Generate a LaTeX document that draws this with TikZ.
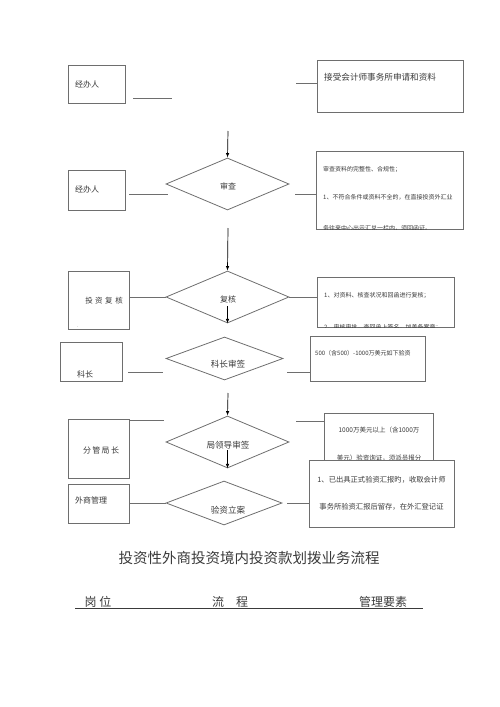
\documentclass[tikz,border=0pt]{standalone}
\usepackage{fontspec}
\newfontfamily\cjk{Noto Sans CJK SC}
\usetikzlibrary{shapes.geometric,arrows.meta}
\definecolor{flowline}{HTML}{6E6E6E}
\definecolor{flowtext}{HTML}{3A3A3A}

\tikzset{
  postbox/.style={draw=flowline, line width=0.8pt, fill=white, inner sep=0pt},
  checkbox/.style={diamond, draw=flowline, line width=0.8pt, inner sep=0pt},
  link/.style={draw=flowline, line width=0.8pt},
  flow/.style={draw=black, line width=0.7pt, -{Latex[length=4.5pt,width=3.5pt]}},
  txt/.style={text=flowtext, inner sep=0pt, font=\cjk\fontsize{#1}{#1}\selectfont},
  txt/.default=8,
}

\begin{document}
\begin{tikzpicture}[x=1pt,y=-1pt]
  \useasboundingbox (0,0) rectangle (500,707);

  % row 1
  \node[postbox, minimum width=57pt, minimum height=38pt] (jbA) at (96.5,84) {};
  \node[txt, anchor=west] (jbAText) at (75,84) {经办人};
  \coordinate (l1a) at (133,98);
  \coordinate (l1b) at (172,98);
  \draw[link] (l1a) -- (l1b);
  \node[postbox, minimum width=146pt, minimum height=52pt] (accA) at (390,86) {};
  \node[txt=8.6, anchor=west] (accAText) at (324,77) {接受会计师事务所申请和资料};
  \coordinate (r1) at (296,83);
  \draw[link] (r1) -- (r1 -| accA.west);
  \coordinate (ar1) at (228,131);

  % row 2
  \node[postbox, minimum width=57pt, minimum height=40pt] (jbB) at (96.5,190) {};
  \node[txt, anchor=west] (jbBText) at (75,189) {经办人};
  \node[checkbox, minimum width=123pt, minimum height=52pt] (sc) at (227.5,184) {};
  \node[txt] (scText) at (228,186) {审查};
  \draw[flow] (ar1) -- (sc.north);
  \coordinate (l2a) at (129,194);
  \coordinate (l2b) at (168,194);
  \draw[link] (l2a) -- (l2b);
  \node[postbox, minimum width=147pt, minimum height=78pt] (rvB) at (389.5,190) {};
  \coordinate (r2) at (295,194);
  \draw[link] (r2) -- (r2 -| rvB.west);
  \begin{scope}
    \clip (rvB.south west) rectangle (rvB.north east);
    \node[txt=6, anchor=west] (rvBa) at (323,169) {审查资料的完整性、合规性；};
    \node[txt=6, anchor=west] (rvBb) at (323,197) {1、不符合条件或资料不全的，在直接投资外汇业};
    \node[txt=6, anchor=west] (rvBc) at (323,228) {务往来中心出示汇兑一栏内，须回函证。};
  \end{scope}
  \coordinate (ar2) at (228,228);

  % row 3
  \node[postbox, minimum width=61pt, minimum height=58pt] (tzfh) at (98.5,300) {};
  \node[txt=7.5] (tzfhText) at (104,301) {投\,\,资\,\,复\,\,核};
  \node[txt=4] (tzfhDot) at (78,327) {.};
  \node[checkbox, minimum width=123pt, minimum height=52pt] (fh) at (227.5,297) {};
  \node[txt=8] (fhText) at (228,299) {复核};
  \draw[flow] (ar2) -- (fh.north);
  \coordinate (in3) at (227.5,306);
  \draw[flow] (in3) -- (fh.south);
  \draw[link] (tzfh.east |- fh.west) -- (fh.west);
  \node[postbox, minimum width=137pt, minimum height=50pt] (fhN) at (385.5,302) {};
  \draw[link] (fh.east) -- (fh.east -| fhN.west);
  \begin{scope}
    \clip (fhN.south west) rectangle (fhN.north east);
    \node[txt=6, anchor=west] (fhNa) at (324,295) {1、对资料、核查状况和回函进行复核；};
    \node[txt=6, anchor=west] (fhNb) at (324,327) {2、审核审批，查回函上签名，加盖备案章；};
  \end{scope}

  % row 4
  \node[postbox, minimum width=62pt, minimum height=39pt] (kz) at (91,361.5) {};
  \node[txt, anchor=west] (kzText) at (77,374) {科长};
  \coordinate (l4a) at (128,372);
  \coordinate (l4b) at (163,372);
  \draw[link] (l4a) -- (l4b);
  \node[checkbox, minimum width=117pt, minimum height=43pt] (kzsq) at (224.5,358.5) {};
  \node[txt=8.6] (kzsqText) at (228,364) {科长审签};
  \node[postbox, minimum width=115pt, minimum height=45pt] (kzN) at (367.5,358.5) {};
  \node[txt=6, anchor=west] (kzNText) at (315,353) {500（含500）-1000万美元如下验资};
  \coordinate (r4) at (287,372);
  \draw[link] (r4) -- (r4 -| kzN.west);
  \coordinate (ar4) at (228,393);

  % row 5
  \node[postbox, minimum width=61pt, minimum height=59pt] (fgjz) at (98.5,448.5) {};
  \node[txt=8] (fgjzText) at (101,450) {分\,管\,局\,长};
  \node[checkbox, minimum width=123pt, minimum height=52pt] (ld) at (227.5,442) {};
  \node[txt=8.6] (ldText) at (228,445) {局领导审签};
  \draw[flow] (ar4) -- (ld.north);
  \coordinate (in5) at (227.5,450);
  \draw[flow] (in5) -- (ld.south);
  \coordinate (l5) at (164,420);
  \draw[link] (fgjz.north east |- l5) -- (l5);
  \node[postbox, minimum width=109pt, minimum height=62pt] (ldN) at (378.5,444) {};
  \node[txt=6.5] (ldNa) at (379,430) {1000万美元以上（含1000万};
  \node[txt=6.5] (ldNb) at (379,458) {美元）验资询证，须派员报分};
  \coordinate (r5) at (296,421);
  \draw[link] (r5) -- (r5 -| ldN.west);

  % row 6
  \node[postbox, minimum width=145pt, minimum height=67pt] (ysN) at (381.5,493.5) {};
  \node[txt=7.3] (ysNa) at (381.5,480) {1、已出具正式验资汇报旳，收取会计师};
  \node[txt=7.3] (ysNb) at (381.5,507) {事务所验资汇报后留存，在外汇登记证};
  \node[postbox, minimum width=61pt, minimum height=39pt] (wsgl) at (98.5,503.5) {};
  \node[txt, anchor=west] (wsglText) at (75,500) {外商管理};
  \node[checkbox, minimum width=116pt, minimum height=44pt] (ys) at (224,503) {};
  \node[txt=8.6] (ysText) at (228,510) {验资立案};
  \draw[link] (wsgl.east |- ys.west) -- (ys.west);
  \coordinate (r6) at (287,503);
  \draw[link] (r6) -- (r6 -| ysN.west);

  % title and header
  \node[txt=14.5] (title) at (249,558) {投资性外商投资境内投资款划拨业务流程};
  \node[txt=12] (hdPost) at (98,602) {岗\ 位};
  \node[txt=12] (hdFlow) at (230,602) {流\quad 程};
  \node[txt=12] (hdKey) at (383,602) {管理要素};
  \coordinate (hdL) at (75,608);
  \coordinate (hdR) at (423,608);
  \draw[draw=flowtext, line width=0.7pt] (hdL) -- (hdR);
\end{tikzpicture}
\end{document}
